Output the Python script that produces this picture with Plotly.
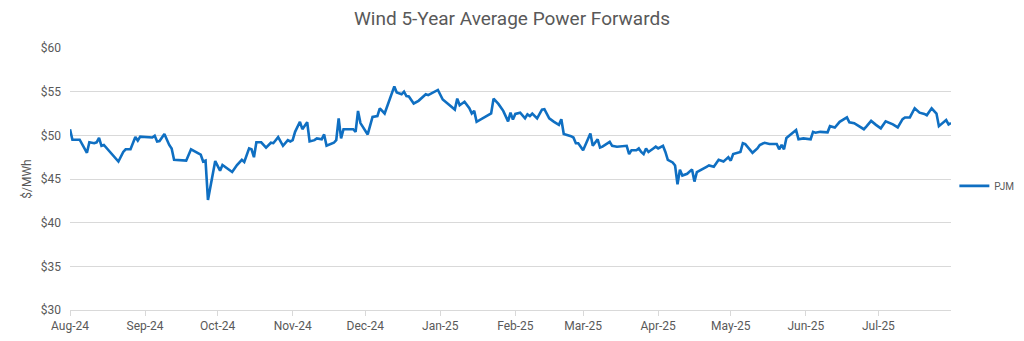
import plotly.graph_objects as go

# PJM wind 5-year average forward price, $/MWh
dates = [
    "2024-08-01", "2024-08-02", "2024-08-05", "2024-08-08", "2024-08-09", "2024-08-11", "2024-08-12", "2024-08-13",
    "2024-08-14", "2024-08-15", "2024-08-21", "2024-08-23", "2024-08-24", "2024-08-26", "2024-08-28", "2024-08-29",
    "2024-08-30",
    "2024-09-04", "2024-09-05", "2024-09-06", "2024-09-07", "2024-09-09", "2024-09-11", "2024-09-12", "2024-09-13",
    "2024-09-18", "2024-09-20", "2024-09-24", "2024-09-25", "2024-09-26", "2024-09-27", "2024-09-30",
    "2024-10-02", "2024-10-03", "2024-10-07", "2024-10-09", "2024-10-11", "2024-10-12", "2024-10-14", "2024-10-15",
    "2024-10-16", "2024-10-17", "2024-10-19", "2024-10-21", "2024-10-23", "2024-10-24", "2024-10-26", "2024-10-28",
    "2024-10-30", "2024-10-31",
    "2024-11-01", "2024-11-02", "2024-11-04", "2024-11-05", "2024-11-07", "2024-11-08", "2024-11-10", "2024-11-11",
    "2024-11-13", "2024-11-14", "2024-11-15", "2024-11-18", "2024-11-19", "2024-11-20", "2024-11-21", "2024-11-22",
    "2024-11-26", "2024-11-27", "2024-11-28", "2024-11-29",
    "2024-12-02", "2024-12-04", "2024-12-06", "2024-12-07", "2024-12-09", "2024-12-11", "2024-12-13", "2024-12-14",
    "2024-12-16", "2024-12-17", "2024-12-18", "2024-12-19", "2024-12-20", "2024-12-21", "2024-12-23", "2024-12-25",
    "2024-12-26", "2024-12-27", "2024-12-31",
    "2025-01-02", "2025-01-05", "2025-01-07", "2025-01-08", "2025-01-09", "2025-01-11", "2025-01-13", "2025-01-14",
    "2025-01-15", "2025-01-16", "2025-01-22", "2025-01-23", "2025-01-25", "2025-01-27", "2025-01-29", "2025-01-30",
    "2025-01-31",
    "2025-02-01", "2025-02-03", "2025-02-05", "2025-02-06", "2025-02-07", "2025-02-08", "2025-02-10", "2025-02-12",
    "2025-02-13", "2025-02-15", "2025-02-17", "2025-02-19", "2025-02-20", "2025-02-21", "2025-02-24", "2025-02-25",
    "2025-02-26", "2025-02-27",
    "2025-03-01", "2025-03-02", "2025-03-04", "2025-03-05", "2025-03-07", "2025-03-08", "2025-03-09", "2025-03-12",
    "2025-03-13", "2025-03-15", "2025-03-19", "2025-03-20", "2025-03-21", "2025-03-23", "2025-03-24", "2025-03-25",
    "2025-03-26", "2025-03-27", "2025-03-28", "2025-03-30", "2025-03-31",
    "2025-04-01", "2025-04-03", "2025-04-04", "2025-04-05", "2025-04-07", "2025-04-08", "2025-04-09", "2025-04-10",
    "2025-04-11", "2025-04-13", "2025-04-15", "2025-04-16", "2025-04-17", "2025-04-19", "2025-04-21", "2025-04-22",
    "2025-04-24", "2025-04-26", "2025-04-28", "2025-04-29", "2025-04-30",
    "2025-05-01", "2025-05-02", "2025-05-05", "2025-05-06", "2025-05-07", "2025-05-10", "2025-05-12", "2025-05-13",
    "2025-05-15", "2025-05-17", "2025-05-20", "2025-05-21", "2025-05-22", "2025-05-23", "2025-05-24", "2025-05-26",
    "2025-05-28", "2025-05-29", "2025-05-31",
    "2025-06-03", "2025-06-04", "2025-06-05", "2025-06-07", "2025-06-10", "2025-06-11", "2025-06-13", "2025-06-15",
    "2025-06-18", "2025-06-19", "2025-06-21", "2025-06-23", "2025-06-25", "2025-06-26", "2025-06-28", "2025-06-30",
    "2025-07-02", "2025-07-04", "2025-07-07", "2025-07-09", "2025-07-11", "2025-07-12", "2025-07-14", "2025-07-16",
    "2025-07-18", "2025-07-20", "2025-07-21", "2025-07-23", "2025-07-25", "2025-07-26", "2025-07-28", "2025-07-29",
    "2025-07-30", "2025-07-31",
]

pjm = [
    50.7, 49.5, 49.5, 48.0, 49.2, 49.1, 49.2, 49.7, 48.8, 48.9, 47.0, 48.1, 48.4, 48.4, 49.8, 49.4, 49.85,
    49.75, 49.95, 49.3, 49.35, 50.15, 48.9, 48.5, 47.2, 47.1, 48.4, 47.8, 47.0, 47.1, 42.6, 47.05,
    45.95, 46.6, 45.8, 46.6, 47.2, 46.95, 48.5, 48.4, 47.5, 49.2, 49.2, 48.6, 49.15, 49.1, 49.8, 48.8, 49.45, 49.3,
    49.45, 50.4, 51.55, 50.7, 51.5, 49.3, 49.45, 49.65, 49.55, 50.1, 48.8, 49.15, 49.45, 51.95, 49.65, 50.7,
    50.7, 50.4, 52.8, 51.4,
    50.1, 52.1, 52.2, 53.1, 52.5, 54.05, 55.6, 54.9, 54.7, 55.0, 54.5, 54.45, 54.1, 53.65, 53.95, 54.5, 54.7,
    54.6, 55.2,
    54.1, 53.45, 52.95, 54.2, 53.45, 53.85, 53.1, 52.5, 52.8, 51.55, 52.5, 54.2, 53.6, 52.8, 51.6, 52.6, 51.8,
    52.45, 52.6, 51.95, 52.4, 52.2, 52.5, 51.95, 52.95, 53.0, 51.95, 51.55, 51.2, 51.85, 50.15, 49.9, 49.75,
    49.1, 49.1,
    48.3, 48.9, 50.2, 48.8, 49.55, 48.6, 48.7, 49.25, 48.8, 48.7, 48.8, 47.85, 48.3, 48.3, 48.5, 48.1, 47.85,
    48.5, 48.1, 48.5, 48.7,
    48.5, 48.8, 48.1, 47.2, 46.9, 46.55, 44.4, 46.05, 45.4, 45.6, 46.1, 44.7, 45.8, 46.15, 46.4, 46.55, 46.4,
    47.2, 47.0, 47.25, 47.5,
    47.1, 47.85, 48.1, 49.1, 49.0, 48.0, 48.5, 48.9, 49.15, 49.0, 49.0, 48.4, 48.9, 48.4, 49.7, 50.2, 50.6,
    49.55, 49.65,
    49.55, 50.4, 50.3, 50.4, 50.35, 51.05, 50.9, 51.55, 52.05, 51.5, 51.4, 51.05, 50.7, 51.0, 51.65, 51.2,
    50.8, 51.6, 51.25, 50.9, 51.85, 52.05, 52.05, 53.1, 52.6, 52.45, 52.3, 53.1, 52.5, 51.05, 51.45, 51.75,
    51.25, 51.4,
]

series_name = "PJM"
chart_title = "Wind 5-Year Average Power Forwards"
y_title = "$/MWh"
y_ticks = [30, 35, 40, 45, 50, 55, 60]
y_tick_labels = ["$30", "$35", "$40", "$45", "$50", "$55", "$60"]

TEXT = "#595959"
GRID = "#D9D9D9"
LINE = "#0F6FC2"
FONT = "Roboto, Liberation Sans, sans-serif"

fig = go.Figure()
fig.add_trace(go.Scatter(
    x=dates, y=pjm, mode="lines", name=series_name,
    line=dict(color=LINE, width=2.6),
))

fig.update_layout(
    width=1024, height=341,
    margin=dict(l=70, r=73, t=48, b=31, autoexpand=False),
    paper_bgcolor="white", plot_bgcolor="white",
    font=dict(family=FONT, color=TEXT, size=12),
    title=dict(text=chart_title, x=0.5, xanchor="center", y=0.945, yanchor="middle",
               font=dict(size=19, color=TEXT, family=FONT)),
    showlegend=True,
    legend=dict(xref="container", x=0.932, yref="container", y=0.455,
                xanchor="left", yanchor="middle",
                font=dict(size=10, color=TEXT), bgcolor="rgba(0,0,0,0)",
                itemwidth=30),
)

fig.update_xaxes(
    type="date", range=["2024-08-01", "2025-07-31"],
    tick0="2024-08-01", dtick="M1", tickformat="%b-%y",
    showgrid=False, showline=True, linecolor=GRID, linewidth=1,
    ticks="outside", ticklen=5, tickcolor=GRID,
    tickfont=dict(size=12, color=TEXT),
    zeroline=False,
)

fig.update_yaxes(
    range=[30, 60], tickmode="array", tickvals=y_ticks, ticktext=y_tick_labels,
    showgrid=True, gridcolor=GRID, gridwidth=1,
    showline=False, zeroline=False, ticks="", ticklabelstandoff=8,
    tickfont=dict(size=12, color=TEXT),
    title=dict(text=y_title, font=dict(size=12, color=TEXT), standoff=6),
)

fig.write_html("out.html")
